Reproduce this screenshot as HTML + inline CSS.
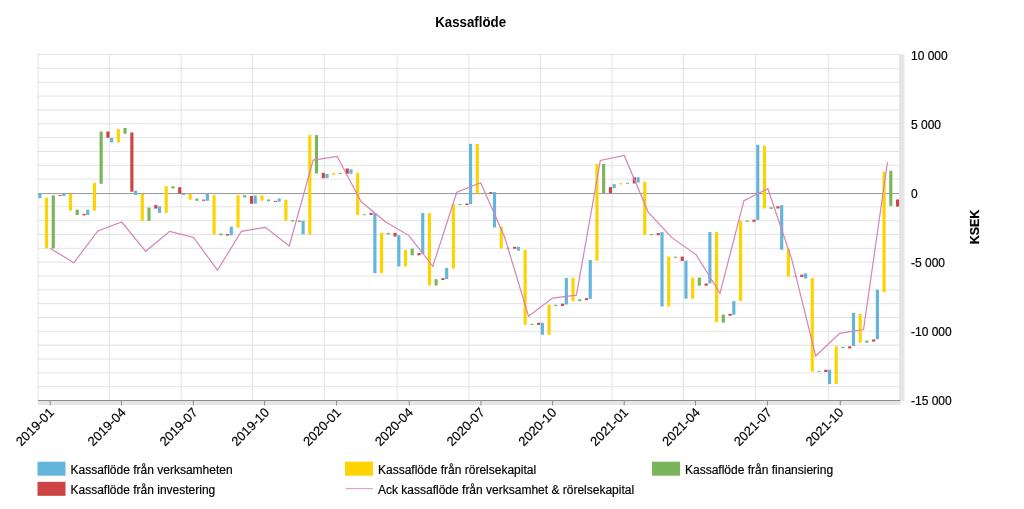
<!DOCTYPE html><html><head><meta charset="utf-8"><style>html,body{margin:0;padding:0;background:#fff;}svg{display:block;will-change:transform;font-family:"Liberation Sans",sans-serif;}text{stroke:#000;stroke-width:0.18px;}</style></head><body>
<svg width="1024" height="509" viewBox="0 0 1024 509">
<rect x="0" y="0" width="1024" height="509" fill="#fff"/>
<text transform="translate(470.6,27) scale(1,1.08)" text-anchor="middle" font-size="13.3" font-weight="bold" fill="#000" style="stroke-width:0">Kassaflöde</text>
<rect x="38.0" y="54.05" width="861.50" height="1" fill="#e3e3e3"/>
<rect x="38.0" y="67.89" width="861.50" height="1" fill="#e3e3e3"/>
<rect x="38.0" y="81.73" width="861.50" height="1" fill="#e3e3e3"/>
<rect x="38.0" y="95.57" width="861.50" height="1" fill="#e3e3e3"/>
<rect x="38.0" y="109.41" width="861.50" height="1" fill="#e3e3e3"/>
<rect x="38.0" y="123.25" width="861.50" height="1" fill="#e3e3e3"/>
<rect x="38.0" y="137.09" width="861.50" height="1" fill="#e3e3e3"/>
<rect x="38.0" y="150.93" width="861.50" height="1" fill="#e3e3e3"/>
<rect x="38.0" y="164.77" width="861.50" height="1" fill="#e3e3e3"/>
<rect x="38.0" y="178.61" width="861.50" height="1" fill="#e3e3e3"/>
<rect x="38.0" y="206.29" width="861.50" height="1" fill="#e3e3e3"/>
<rect x="38.0" y="220.13" width="861.50" height="1" fill="#e3e3e3"/>
<rect x="38.0" y="233.97" width="861.50" height="1" fill="#e3e3e3"/>
<rect x="38.0" y="247.81" width="861.50" height="1" fill="#e3e3e3"/>
<rect x="38.0" y="261.65" width="861.50" height="1" fill="#e3e3e3"/>
<rect x="38.0" y="275.49" width="861.50" height="1" fill="#e3e3e3"/>
<rect x="38.0" y="289.33" width="861.50" height="1" fill="#e3e3e3"/>
<rect x="38.0" y="303.17" width="861.50" height="1" fill="#e3e3e3"/>
<rect x="38.0" y="317.01" width="861.50" height="1" fill="#e3e3e3"/>
<rect x="38.0" y="330.85" width="861.50" height="1" fill="#e3e3e3"/>
<rect x="38.0" y="344.69" width="861.50" height="1" fill="#e3e3e3"/>
<rect x="38.0" y="358.53" width="861.50" height="1" fill="#e3e3e3"/>
<rect x="38.0" y="372.37" width="861.50" height="1" fill="#e3e3e3"/>
<rect x="38.0" y="386.21" width="861.50" height="1" fill="#e3e3e3"/>
<rect x="38.0" y="400.05" width="861.50" height="1" fill="#e3e3e3"/>
<rect x="37.55" y="54.05" width="1" height="345.95" fill="#e3e3e3"/>
<rect x="108.85" y="54.05" width="1" height="345.95" fill="#e3e3e3"/>
<rect x="180.70" y="54.05" width="1" height="345.95" fill="#e3e3e3"/>
<rect x="252.00" y="54.05" width="1" height="345.95" fill="#e3e3e3"/>
<rect x="323.94" y="54.05" width="1" height="345.95" fill="#e3e3e3"/>
<rect x="396.60" y="54.05" width="1" height="345.95" fill="#e3e3e3"/>
<rect x="468.40" y="54.05" width="1" height="345.95" fill="#e3e3e3"/>
<rect x="540.00" y="54.05" width="1" height="345.95" fill="#e3e3e3"/>
<rect x="611.60" y="54.05" width="1" height="345.95" fill="#e3e3e3"/>
<rect x="682.90" y="54.05" width="1" height="345.95" fill="#e3e3e3"/>
<rect x="754.70" y="54.05" width="1" height="345.95" fill="#e3e3e3"/>
<rect x="827.70" y="54.05" width="1" height="345.95" fill="#e3e3e3"/>
<rect x="38.0" y="193.05" width="861.50" height="1" fill="#999"/>
<rect x="899.5" y="54.5" width="5" height="347" fill="#e6e6e6"/>
<rect x="899.5" y="54.5" width="1" height="347" fill="#dcdcdc"/>
<rect x="38" y="400.5" width="862.5" height="4.5" fill="#e6e6e6"/>
<rect x="38" y="400" width="862" height="1" fill="#8c8c8c"/>
<rect x="49.65" y="400" width="1" height="5.5" fill="#8c8c8c"/>
<rect x="120.95" y="400" width="1" height="5.5" fill="#8c8c8c"/>
<rect x="192.80" y="400" width="1" height="5.5" fill="#8c8c8c"/>
<rect x="264.10" y="400" width="1" height="5.5" fill="#8c8c8c"/>
<rect x="336.04" y="400" width="1" height="5.5" fill="#8c8c8c"/>
<rect x="408.70" y="400" width="1" height="5.5" fill="#8c8c8c"/>
<rect x="480.50" y="400" width="1" height="5.5" fill="#8c8c8c"/>
<rect x="552.10" y="400" width="1" height="5.5" fill="#8c8c8c"/>
<rect x="623.70" y="400" width="1" height="5.5" fill="#8c8c8c"/>
<rect x="695.00" y="400" width="1" height="5.5" fill="#8c8c8c"/>
<rect x="766.80" y="400" width="1" height="5.5" fill="#8c8c8c"/>
<rect x="839.80" y="400" width="1" height="5.5" fill="#8c8c8c"/>
<rect x="38.30" y="193.60" width="3.15" height="4.60" fill="#64b5dc"/>
<rect x="45.00" y="197.60" width="3.15" height="50.80" fill="#fdd300"/>
<rect x="51.70" y="195.40" width="3.15" height="53.00" fill="#7ab55c"/>
<rect x="58.50" y="195.10" width="3.15" height="1.00" fill="#cc4444"/>
<rect x="62.23" y="193.80" width="3.15" height="2.20" fill="#64b5dc"/>
<rect x="68.93" y="193.80" width="3.15" height="16.80" fill="#fdd300"/>
<rect x="75.63" y="209.70" width="3.15" height="5.30" fill="#7ab55c"/>
<rect x="82.43" y="213.90" width="3.15" height="1.50" fill="#cc4444"/>
<rect x="86.16" y="209.70" width="3.15" height="5.30" fill="#64b5dc"/>
<rect x="92.86" y="183.00" width="3.15" height="27.70" fill="#fdd300"/>
<rect x="99.56" y="131.50" width="3.15" height="52.30" fill="#7ab55c"/>
<rect x="106.36" y="131.50" width="3.15" height="6.30" fill="#cc4444"/>
<rect x="110.09" y="138.00" width="3.15" height="4.50" fill="#64b5dc"/>
<rect x="116.79" y="129.10" width="3.15" height="13.40" fill="#fdd300"/>
<rect x="123.49" y="128.00" width="3.15" height="5.70" fill="#7ab55c"/>
<rect x="130.29" y="132.50" width="3.15" height="59.20" fill="#cc4444"/>
<rect x="134.02" y="190.70" width="3.15" height="4.30" fill="#64b5dc"/>
<rect x="140.72" y="194.00" width="3.15" height="26.90" fill="#fdd300"/>
<rect x="147.42" y="207.50" width="3.15" height="13.40" fill="#7ab55c"/>
<rect x="154.22" y="205.10" width="3.15" height="3.50" fill="#cc4444"/>
<rect x="157.94" y="206.30" width="3.15" height="6.60" fill="#64b5dc"/>
<rect x="164.64" y="186.20" width="3.15" height="26.70" fill="#fdd300"/>
<rect x="171.34" y="186.20" width="3.15" height="2.20" fill="#7ab55c"/>
<rect x="178.14" y="187.20" width="3.15" height="6.60" fill="#cc4444"/>
<rect x="181.87" y="193.30" width="3.15" height="1.70" fill="#64b5dc"/>
<rect x="188.57" y="194.00" width="3.15" height="5.70" fill="#fdd300"/>
<rect x="195.27" y="198.60" width="3.15" height="2.20" fill="#7ab55c"/>
<rect x="202.07" y="199.60" width="3.15" height="1.20" fill="#cc4444"/>
<rect x="205.80" y="194.00" width="3.15" height="6.80" fill="#64b5dc"/>
<rect x="212.50" y="195.20" width="3.15" height="39.30" fill="#fdd300"/>
<rect x="219.20" y="233.50" width="3.15" height="1.80" fill="#7ab55c"/>
<rect x="226.00" y="234.10" width="3.15" height="1.50" fill="#cc4444"/>
<rect x="229.73" y="226.70" width="3.15" height="8.60" fill="#64b5dc"/>
<rect x="236.43" y="195.20" width="3.15" height="32.50" fill="#fdd300"/>
<rect x="243.13" y="195.20" width="3.15" height="2.20" fill="#7ab55c"/>
<rect x="249.93" y="196.00" width="3.15" height="7.70" fill="#cc4444"/>
<rect x="253.66" y="195.40" width="3.15" height="8.30" fill="#64b5dc"/>
<rect x="260.36" y="195.40" width="3.15" height="5.30" fill="#fdd300"/>
<rect x="267.06" y="199.50" width="3.15" height="1.80" fill="#7ab55c"/>
<rect x="273.86" y="200.90" width="3.15" height="1.00" fill="#cc4444"/>
<rect x="277.59" y="198.50" width="3.15" height="3.20" fill="#64b5dc"/>
<rect x="284.29" y="199.90" width="3.15" height="20.80" fill="#fdd300"/>
<rect x="290.99" y="220.10" width="3.15" height="1.40" fill="#7ab55c"/>
<rect x="297.79" y="220.70" width="3.15" height="1.00" fill="#cc4444"/>
<rect x="301.52" y="220.90" width="3.15" height="13.40" fill="#64b5dc"/>
<rect x="308.22" y="135.10" width="3.15" height="99.20" fill="#fdd300"/>
<rect x="314.92" y="135.10" width="3.15" height="38.40" fill="#7ab55c"/>
<rect x="321.72" y="172.90" width="3.15" height="5.30" fill="#cc4444"/>
<rect x="325.45" y="174.00" width="3.15" height="4.20" fill="#64b5dc"/>
<rect x="332.15" y="172.90" width="3.15" height="1.80" fill="#fdd300"/>
<rect x="338.85" y="172.85" width="3.15" height="1.00" fill="#7ab55c"/>
<rect x="345.65" y="168.50" width="3.15" height="5.30" fill="#cc4444"/>
<rect x="349.38" y="169.30" width="3.15" height="4.50" fill="#64b5dc"/>
<rect x="356.08" y="172.90" width="3.15" height="42.10" fill="#fdd300"/>
<rect x="362.78" y="214.25" width="3.15" height="1.00" fill="#7ab55c"/>
<rect x="369.58" y="213.10" width="3.15" height="1.90" fill="#cc4444"/>
<rect x="373.31" y="213.10" width="3.15" height="60.10" fill="#64b5dc"/>
<rect x="380.01" y="232.90" width="3.15" height="40.30" fill="#fdd300"/>
<rect x="386.71" y="232.90" width="3.15" height="1.40" fill="#7ab55c"/>
<rect x="393.51" y="232.90" width="3.15" height="3.60" fill="#cc4444"/>
<rect x="397.24" y="235.30" width="3.15" height="31.20" fill="#64b5dc"/>
<rect x="403.94" y="250.00" width="3.15" height="16.50" fill="#fdd300"/>
<rect x="410.63" y="248.60" width="3.15" height="6.70" fill="#7ab55c"/>
<rect x="417.44" y="253.00" width="3.15" height="2.30" fill="#cc4444"/>
<rect x="421.16" y="213.10" width="3.15" height="40.80" fill="#64b5dc"/>
<rect x="427.86" y="213.10" width="3.15" height="72.40" fill="#fdd300"/>
<rect x="434.56" y="279.20" width="3.15" height="6.30" fill="#7ab55c"/>
<rect x="441.36" y="278.20" width="3.15" height="1.80" fill="#cc4444"/>
<rect x="445.09" y="268.00" width="3.15" height="11.00" fill="#64b5dc"/>
<rect x="451.79" y="204.30" width="3.15" height="64.30" fill="#fdd300"/>
<rect x="458.49" y="204.05" width="3.15" height="1.00" fill="#7ab55c"/>
<rect x="465.29" y="203.50" width="3.15" height="1.40" fill="#cc4444"/>
<rect x="469.02" y="143.90" width="3.15" height="60.10" fill="#64b5dc"/>
<rect x="475.72" y="143.90" width="3.15" height="49.60" fill="#fdd300"/>
<rect x="482.42" y="192.90" width="3.15" height="1.00" fill="#7ab55c"/>
<rect x="489.22" y="192.10" width="3.15" height="1.40" fill="#cc4444"/>
<rect x="492.95" y="192.10" width="3.15" height="35.30" fill="#64b5dc"/>
<rect x="499.65" y="226.50" width="3.15" height="22.10" fill="#fdd300"/>
<rect x="506.35" y="247.80" width="3.15" height="1.00" fill="#7ab55c"/>
<rect x="513.15" y="246.80" width="3.15" height="2.00" fill="#cc4444"/>
<rect x="516.88" y="246.80" width="3.15" height="3.90" fill="#64b5dc"/>
<rect x="523.58" y="249.70" width="3.15" height="75.00" fill="#fdd300"/>
<rect x="530.28" y="323.80" width="3.15" height="1.10" fill="#7ab55c"/>
<rect x="537.08" y="322.80" width="3.15" height="2.10" fill="#cc4444"/>
<rect x="540.81" y="322.80" width="3.15" height="12.00" fill="#64b5dc"/>
<rect x="547.51" y="304.70" width="3.15" height="30.10" fill="#fdd300"/>
<rect x="554.21" y="304.70" width="3.15" height="1.20" fill="#7ab55c"/>
<rect x="561.01" y="303.70" width="3.15" height="2.20" fill="#cc4444"/>
<rect x="564.74" y="277.90" width="3.15" height="26.60" fill="#64b5dc"/>
<rect x="571.44" y="277.90" width="3.15" height="23.30" fill="#fdd300"/>
<rect x="578.14" y="299.30" width="3.15" height="1.90" fill="#7ab55c"/>
<rect x="584.94" y="298.20" width="3.15" height="1.90" fill="#cc4444"/>
<rect x="588.67" y="260.00" width="3.15" height="38.90" fill="#64b5dc"/>
<rect x="595.37" y="163.90" width="3.15" height="96.80" fill="#fdd300"/>
<rect x="602.07" y="163.90" width="3.15" height="29.30" fill="#7ab55c"/>
<rect x="608.87" y="187.10" width="3.15" height="6.10" fill="#cc4444"/>
<rect x="612.60" y="184.10" width="3.15" height="4.10" fill="#64b5dc"/>
<rect x="619.30" y="183.10" width="3.15" height="1.40" fill="#fdd300"/>
<rect x="626.00" y="182.75" width="3.15" height="1.00" fill="#7ab55c"/>
<rect x="632.80" y="177.30" width="3.15" height="6.20" fill="#cc4444"/>
<rect x="636.52" y="177.30" width="3.15" height="5.30" fill="#64b5dc"/>
<rect x="643.22" y="181.80" width="3.15" height="53.00" fill="#fdd300"/>
<rect x="649.92" y="234.00" width="3.15" height="1.20" fill="#7ab55c"/>
<rect x="656.72" y="233.10" width="3.15" height="2.10" fill="#cc4444"/>
<rect x="660.45" y="232.10" width="3.15" height="74.40" fill="#64b5dc"/>
<rect x="667.15" y="256.60" width="3.15" height="49.90" fill="#fdd300"/>
<rect x="673.85" y="256.60" width="3.15" height="1.20" fill="#7ab55c"/>
<rect x="680.65" y="256.60" width="3.15" height="4.30" fill="#cc4444"/>
<rect x="684.38" y="260.60" width="3.15" height="38.10" fill="#64b5dc"/>
<rect x="691.08" y="277.60" width="3.15" height="21.10" fill="#fdd300"/>
<rect x="697.78" y="277.60" width="3.15" height="8.10" fill="#7ab55c"/>
<rect x="704.58" y="283.50" width="3.15" height="2.20" fill="#cc4444"/>
<rect x="708.31" y="232.10" width="3.15" height="51.20" fill="#64b5dc"/>
<rect x="715.01" y="232.10" width="3.15" height="90.10" fill="#fdd300"/>
<rect x="721.71" y="314.60" width="3.15" height="8.00" fill="#7ab55c"/>
<rect x="728.51" y="313.80" width="3.15" height="2.00" fill="#cc4444"/>
<rect x="732.24" y="301.20" width="3.15" height="13.60" fill="#64b5dc"/>
<rect x="738.94" y="220.90" width="3.15" height="80.10" fill="#fdd300"/>
<rect x="745.64" y="220.50" width="3.15" height="1.30" fill="#7ab55c"/>
<rect x="752.44" y="219.70" width="3.15" height="2.10" fill="#cc4444"/>
<rect x="756.17" y="144.80" width="3.15" height="75.10" fill="#64b5dc"/>
<rect x="762.87" y="145.80" width="3.15" height="62.70" fill="#fdd300"/>
<rect x="769.57" y="207.30" width="3.15" height="1.60" fill="#7ab55c"/>
<rect x="776.37" y="206.30" width="3.15" height="2.20" fill="#cc4444"/>
<rect x="780.10" y="205.10" width="3.15" height="44.60" fill="#64b5dc"/>
<rect x="786.80" y="249.00" width="3.15" height="27.60" fill="#fdd300"/>
<rect x="793.50" y="275.90" width="3.15" height="1.00" fill="#7ab55c"/>
<rect x="800.30" y="274.60" width="3.15" height="2.30" fill="#cc4444"/>
<rect x="804.03" y="273.40" width="3.15" height="5.00" fill="#64b5dc"/>
<rect x="810.73" y="278.10" width="3.15" height="93.50" fill="#fdd300"/>
<rect x="817.43" y="370.80" width="3.15" height="1.00" fill="#7ab55c"/>
<rect x="824.23" y="369.80" width="3.15" height="2.20" fill="#cc4444"/>
<rect x="827.96" y="369.80" width="3.15" height="14.20" fill="#64b5dc"/>
<rect x="834.66" y="346.30" width="3.15" height="37.70" fill="#fdd300"/>
<rect x="841.36" y="346.90" width="3.15" height="1.30" fill="#7ab55c"/>
<rect x="848.16" y="346.30" width="3.15" height="2.10" fill="#cc4444"/>
<rect x="851.89" y="312.90" width="3.15" height="33.20" fill="#64b5dc"/>
<rect x="858.59" y="313.90" width="3.15" height="28.80" fill="#fdd300"/>
<rect x="865.29" y="340.60" width="3.15" height="2.10" fill="#7ab55c"/>
<rect x="872.09" y="339.40" width="3.15" height="2.20" fill="#cc4444"/>
<rect x="875.81" y="289.80" width="3.15" height="49.40" fill="#64b5dc"/>
<rect x="882.51" y="171.80" width="3.15" height="120.40" fill="#fdd300"/>
<rect x="889.22" y="170.80" width="3.15" height="35.10" fill="#7ab55c"/>
<rect x="896.01" y="199.50" width="3.15" height="7.00" fill="#cc4444"/>
<polyline points="49.96,248.20 73.89,262.70 97.82,230.90 121.75,222.00 145.68,251.30 169.61,231.30 193.54,237.50 217.47,270.20 241.40,231.30 265.33,227.30 289.25,246.00 313.18,160.10 337.11,156.30 361.04,201.50 384.97,221.40 408.90,235.60 432.83,266.30 456.76,192.20 480.69,182.70 504.62,237.00 528.54,316.20 552.47,298.10 576.40,295.20 600.33,160.50 624.26,155.50 648.19,212.10 672.12,237.90 696.05,254.60 719.98,293.30 743.91,200.70 767.83,188.70 791.76,259.30 815.69,356.00 839.62,333.40 863.55,329.50 887.48,162.00" fill="none" stroke="#d583b8" stroke-width="1.2" stroke-linejoin="miter"/>
<text x="911" y="59.50" font-size="12" fill="#000">10 000</text>
<text x="911" y="128.65" font-size="12" fill="#000">5 000</text>
<text x="911" y="197.80" font-size="12" fill="#000">0</text>
<text x="911" y="266.95" font-size="12" fill="#000">-5 000</text>
<text x="911" y="336.10" font-size="12" fill="#000">-10 000</text>
<text x="911" y="405.25" font-size="12" fill="#000">-15 000</text>
<text transform="translate(978.5,227) rotate(-90)" text-anchor="middle" font-size="12.5" font-weight="bold" fill="#000">KSEK</text>
<text transform="translate(54.76,413.3) rotate(-45)" text-anchor="end" font-size="12.9" fill="#000">2019-01</text>
<text transform="translate(126.55,413.3) rotate(-45)" text-anchor="end" font-size="12.9" fill="#000">2019-04</text>
<text transform="translate(198.34,413.3) rotate(-45)" text-anchor="end" font-size="12.9" fill="#000">2019-07</text>
<text transform="translate(270.13,413.3) rotate(-45)" text-anchor="end" font-size="12.9" fill="#000">2019-10</text>
<text transform="translate(341.91,413.3) rotate(-45)" text-anchor="end" font-size="12.9" fill="#000">2020-01</text>
<text transform="translate(413.70,413.3) rotate(-45)" text-anchor="end" font-size="12.9" fill="#000">2020-04</text>
<text transform="translate(485.49,413.3) rotate(-45)" text-anchor="end" font-size="12.9" fill="#000">2020-07</text>
<text transform="translate(557.27,413.3) rotate(-45)" text-anchor="end" font-size="12.9" fill="#000">2020-10</text>
<text transform="translate(629.06,413.3) rotate(-45)" text-anchor="end" font-size="12.9" fill="#000">2021-01</text>
<text transform="translate(700.85,413.3) rotate(-45)" text-anchor="end" font-size="12.9" fill="#000">2021-04</text>
<text transform="translate(772.63,413.3) rotate(-45)" text-anchor="end" font-size="12.9" fill="#000">2021-07</text>
<text transform="translate(844.42,413.3) rotate(-45)" text-anchor="end" font-size="12.9" fill="#000">2021-10</text>
<rect x="37.5" y="461.7" width="28" height="14" fill="#64b5dc"/>
<text x="70.5" y="473.9" font-size="12" fill="#000">Kassaflöde från verksamheten</text>
<rect x="37.5" y="481.8" width="28" height="14" fill="#cc4444"/>
<text x="70.5" y="494.0" font-size="12" fill="#000">Kassaflöde från investering</text>
<rect x="345" y="461.7" width="28" height="14" fill="#fdd300"/>
<text x="378" y="473.9" font-size="12" fill="#000">Kassaflöde från rörelsekapital</text>
<rect x="345.8" y="488.1" width="27" height="1.1" fill="#d89ac6"/>
<text x="378" y="494" font-size="12" fill="#000">Ack kassaflöde från verksamhet &amp; rörelsekapital</text>
<rect x="652" y="461.7" width="28" height="14" fill="#7ab55c"/>
<text x="685" y="473.9" font-size="12" fill="#000">Kassaflöde från finansiering</text>
</svg></body></html>
